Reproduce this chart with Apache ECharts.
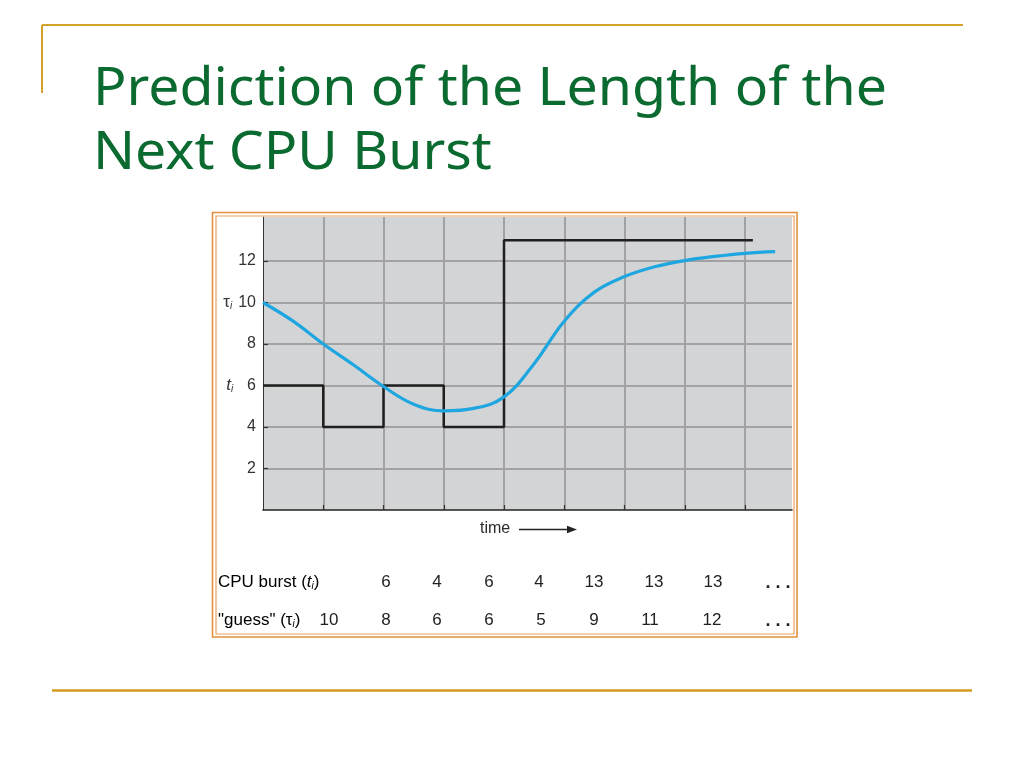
<!DOCTYPE html>
<html>
<head>
<meta charset="utf-8">
<script src="https://cdn.jsdelivr.net/npm/echarts@6/dist/echarts.min.js"></script>
<style>html,body{margin:0;padding:0;background:#fff;}#c{width:1024px;height:768px;}</style>
</head>
<body>
<div id="c"></div>
<script>
// ---- data ----
const titleLines = ['Prediction of the Length of the', 'Next CPU Burst'];
const yTicks = [2, 4, 6, 8, 10, 12];
const xTicks = [1, 2, 3, 4, 5, 6, 7, 8];
// actual CPU burst step line (time, length)
const burstTimes = [0, 1, 2, 3, 4, 8.13];
const burstValues = [6, 4, 6, 4, 13, 13];
// predicted (tau) smooth curve
const tauTimes = [0, 0.5, 1, 1.5, 2, 2.5, 3, 3.5, 4, 4.5, 5, 5.5, 6, 6.5, 7, 7.5, 8, 8.5];
const tauValues = [10, 9.1, 8.0, 7.0, 5.95, 5.1, 4.78, 4.9, 5.45, 7.05, 9.1, 10.5, 11.25, 11.72, 12.02, 12.22, 12.37, 12.45];
// table rows
const cpuBurstRow = [6, 4, 6, 4, 13, 13, 13];
const guessRow = [10, 8, 6, 6, 5, 9, 11, 12];

// ---- layout constants ----
const burstCols = [386, 437, 489, 539, 594, 654, 713];
const guessCols = [329, 386, 437, 489, 541, 594, 650, 712];
const dotsX = 778;
const row1Y = 582, row2Y = 620;
const labelFont = '"Liberation Sans", Arial, sans-serif';

const chart = echarts.init(document.getElementById('c'), null, {renderer: 'canvas'});

// title horizontal scaling to match reference width
const titleFontSize = 53;
const titleFont = titleFontSize + 'px "Noto Sans", sans-serif';
const cv = document.createElement('canvas').getContext('2d');
cv.font = titleFont;
const w1 = cv.measureText(titleLines[0]).width;
const titleScale = 794 / w1;

const graphics = [];
// decorative slide lines
graphics.push({type: 'line', shape: {x1: 42, y1: 25, x2: 963, y2: 25}, style: {stroke: '#d4a12a', lineWidth: 2}});
graphics.push({type: 'line', shape: {x1: 42, y1: 25, x2: 42, y2: 93}, style: {stroke: '#d4a12a', lineWidth: 2}});
graphics.push({type: 'line', shape: {x1: 52, y1: 690.5, x2: 972, y2: 690.5}, style: {stroke: '#d49b1e', lineWidth: 2.5}});
// title
titleLines.forEach((t, i) => {
  graphics.push({type: 'text', x: 93, y: 89.5 + i * 64, scaleX: titleScale,
    style: {text: t, x: 0, y: 0, font: titleFont, fill: '#0a6a2f', verticalAlign: 'middle', align: 'left'}});
});
// frame
graphics.push({type: 'rect', shape: {x: 212.5, y: 212.5, width: 584.5, height: 424.5}, style: {fill: null, stroke: '#e3913c', lineWidth: 1.6}, z: 10});
graphics.push({type: 'rect', shape: {x: 216, y: 216, width: 578, height: 418}, style: {fill: null, stroke: '#e9a25e', lineWidth: 1.2}, z: 10});
// time arrow
graphics.push({type: 'text', x: 480, y: 529, style: {text: 'time', x: 0, y: 0, font: '16px ' + labelFont, fill: '#2a2a2a', verticalAlign: 'middle'}});
graphics.push({type: 'line', shape: {x1: 519, y1: 529.5, x2: 569, y2: 529.5}, style: {stroke: '#222', lineWidth: 1.3}});
graphics.push({type: 'polygon', shape: {points: [[577, 529.5], [567, 525.8], [567, 533.2]]}, style: {fill: '#222'}});

const rich = {
  n: {fontSize: 17, fontFamily: labelFont, color: '#222'},
  it: {fontSize: 17, fontFamily: labelFont, fontStyle: 'italic', color: '#222'},
  g: {fontSize: 17, fontFamily: labelFont, color: '#222'},
  s: {fontSize: 10, fontFamily: labelFont, fontStyle: 'italic', color: '#222', padding: [8, 0, 0, 0]}
};
// table labels
graphics.push({type: 'text', x: 218, y: row1Y, style: {text: '{n|CPU burst (}{it|t}{s|i}{n|)}', rich: rich, x: 0, y: 0, verticalAlign: 'middle'}});
graphics.push({type: 'text', x: 218, y: row2Y, style: {text: '{n|"guess" (}{g|τ}{s|i}{n|)}', rich: rich, x: 0, y: 0, verticalAlign: 'middle'}});
cpuBurstRow.forEach((v, i) => {
  graphics.push({type: 'text', x: burstCols[i], y: row1Y, style: {text: String(v), x: 0, y: 0, font: '17px ' + labelFont, fill: '#222', align: 'center', verticalAlign: 'middle'}});
});
guessRow.forEach((v, i) => {
  graphics.push({type: 'text', x: guessCols[i], y: row2Y, style: {text: String(v), x: 0, y: 0, font: '17px ' + labelFont, fill: '#222', align: 'center', verticalAlign: 'middle'}});
});
[row1Y, row2Y].forEach(y => {
  graphics.push({type: 'text', x: dotsX, y: y + 1, style: {text: '. . .', x: 0, y: 0, font: 'bold 18px ' + labelFont, fill: '#222', align: 'center', verticalAlign: 'middle'}});
});

const gridGray = '#a2a2a4';
const option = {
  animation: false,
  backgroundColor: '#ffffff',
  grid: {left: 263, top: 217, right: 1024 - 792, bottom: 768 - 510, show: true, backgroundColor: '#d3d4d6', borderWidth: 0},
  xAxis: {
    type: 'value', min: 0, max: 8.78, interval: 1,
    axisLine: {show: true, onZero: false, lineStyle: {color: '#222', width: 1.6}},
    axisTick: {show: true, inside: true, length: 5, customValues: xTicks, lineStyle: {color: '#333', width: 1.2}},
    axisLabel: {show: false, customValues: xTicks},
    splitLine: {show: true, showMinLine: true, showMaxLine: true, lineStyle: {color: gridGray, width: 2}}
  },
  yAxis: {
    type: 'value', min: 0, max: 14.12, interval: 2,
    axisLine: {show: true, onZero: false, lineStyle: {color: '#333', width: 1}},
    axisTick: {show: true, inside: true, length: 5, customValues: yTicks, lineStyle: {color: '#333', width: 1.2}},
    axisLabel: {
      show: true, margin: 7, color: '#333', fontSize: 16, fontFamily: labelFont,
      customValues: yTicks,
      formatter: function (v) {
        if (yTicks.indexOf(v) < 0) return '';
        if (v === 10) return '{sym|τ}{sub1|i}{num|10}';
        if (v === 6) return '{it|t}{sub2|i}{num|6}';
        return '{num|' + v + '}';
      },
      rich: {
        num: {fontSize: 16, fontFamily: labelFont, color: '#333'},
        sym: {fontSize: 17, fontFamily: labelFont, color: '#333'},
        it: {fontSize: 17, fontFamily: labelFont, fontStyle: 'italic', color: '#333'},
        sub1: {fontSize: 10, fontFamily: labelFont, fontStyle: 'italic', color: '#333', padding: [8, 6, 0, 0]},
        sub2: {fontSize: 10, fontFamily: labelFont, fontStyle: 'italic', color: '#333', padding: [8, 14, 0, 0]}
      }
    },
    splitLine: {show: true, showMinLine: true, showMaxLine: true, lineStyle: {color: gridGray, width: 2}}
  },
  series: [
    {
      type: 'line', step: 'end', symbol: 'none', z: 3,
      data: burstTimes.map((t, i) => [t, burstValues[i]]),
      lineStyle: {color: '#1f1f1f', width: 2.5}
    },
    {
      type: 'line', smooth: 0.4, symbol: 'none', z: 4,
      data: tauTimes.map((t, i) => [t, tauValues[i]]),
      lineStyle: {color: '#1ea6e0', width: 3.2}
    }
  ],
  graphic: {elements: graphics}
};
chart.setOption(option);
</script>
</body>
</html>
